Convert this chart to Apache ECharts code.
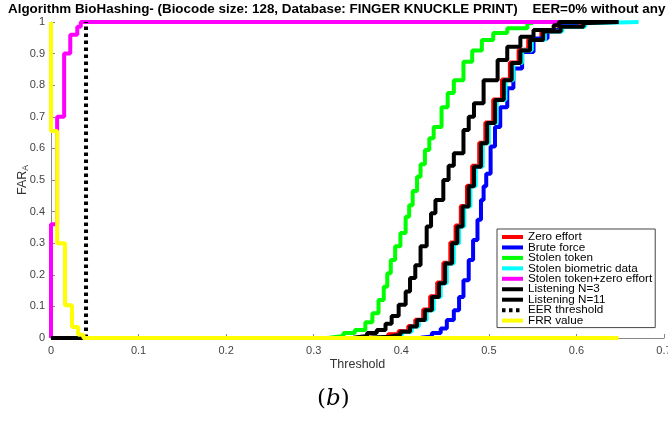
<!DOCTYPE html>
<html>
<head>
<meta charset="utf-8">
<script src="https://cdn.jsdelivr.net/npm/echarts@6/dist/echarts.min.js"></script>
<style>
  html, body { margin: 0; padding: 0; background: #fff; }
  #chart { width: 668px; height: 433px; }
</style>
</head>
<body>
<div id="chart"></div>
<script>
// points: [threshold, value]
const zeroEffort = [[0, 0], [0.30, 0.001], [0.36, 0.004], [0.385, 0.012], [0.397, 0.022], [0.408, 0.038], [0.416, 0.058],
  [0.425, 0.09], [0.433, 0.132], [0.441, 0.176], [0.448, 0.238], [0.456, 0.302], [0.462, 0.356], [0.468, 0.418],
  [0.475, 0.482], [0.481, 0.545], [0.489, 0.618], [0.496, 0.682], [0.505, 0.755], [0.515, 0.818], [0.524, 0.872],
  [0.534, 0.912], [0.545, 0.945], [0.56, 0.972], [0.58, 0.987], [0.606, 0.998], [0.62, 1]];
const bruteForce = [[0, 0], [0.40, 0.001], [0.422, 0.005], [0.435, 0.016], [0.445, 0.03], [0.452, 0.057], [0.46, 0.088],
  [0.466, 0.13], [0.471, 0.183], [0.477, 0.247], [0.482, 0.31], [0.487, 0.374], [0.491, 0.437], [0.494, 0.48],
  [0.497, 0.52], [0.502, 0.606], [0.507, 0.668], [0.513, 0.73], [0.521, 0.79], [0.528, 0.853], [0.538, 0.905],
  [0.551, 0.948], [0.567, 0.975], [0.582, 0.99], [0.6, 1], [0.62, 1]];
const stolenToken = [[0, 0], [0.29, 0.001], [0.318, 0.006], [0.334, 0.016], [0.347, 0.025], [0.359, 0.05], [0.367, 0.078],
  [0.374, 0.12], [0.38, 0.162], [0.384, 0.205], [0.388, 0.247], [0.393, 0.29], [0.399, 0.332], [0.405, 0.384],
  [0.409, 0.42], [0.413, 0.465], [0.418, 0.51], [0.422, 0.55], [0.427, 0.595], [0.432, 0.632], [0.437, 0.668],
  [0.446, 0.73], [0.453, 0.775], [0.46, 0.816], [0.471, 0.874], [0.481, 0.91], [0.492, 0.943], [0.505, 0.965],
  [0.521, 0.98], [0.544, 0.997], [0.55, 1]];
const stolenBiometric = [[0, 0], [0.30, 0.001], [0.365, 0.004], [0.389, 0.01], [0.401, 0.02], [0.412, 0.036], [0.42, 0.057],
  [0.429, 0.088], [0.437, 0.13], [0.445, 0.173], [0.452, 0.236], [0.46, 0.3], [0.466, 0.353], [0.472, 0.416],
  [0.479, 0.48], [0.485, 0.542], [0.493, 0.616], [0.5, 0.68], [0.509, 0.753], [0.519, 0.816], [0.528, 0.87],
  [0.538, 0.91], [0.549, 0.943], [0.564, 0.97], [0.584, 0.985], [0.61, 0.997], [0.625, 1], [0.671, 1]];
const stolenTokenZero = [[0, 0], [0, 0.36], [0.007, 0.70], [0.015, 0.90], [0.022, 0.96], [0.03, 0.985], [0.034, 1], [0.6, 1]];
const listening3 = [[0, 0], [0.30, 0.001], [0.345, 0.006], [0.361, 0.016], [0.372, 0.025], [0.382, 0.045], [0.389, 0.07],
  [0.397, 0.105], [0.405, 0.147], [0.41, 0.19], [0.416, 0.23], [0.422, 0.29], [0.429, 0.353], [0.434, 0.395],
  [0.439, 0.437], [0.448, 0.5], [0.454, 0.545], [0.46, 0.585], [0.471, 0.658], [0.477, 0.7], [0.483, 0.743],
  [0.494, 0.816], [0.51, 0.88], [0.521, 0.922], [0.536, 0.953], [0.551, 0.975], [0.574, 0.99], [0.58, 1], [0.648, 1]];
const listening11 = [[0, 0], [0.30, 0.001], [0.365, 0.004], [0.387, 0.01], [0.399, 0.02], [0.41, 0.036], [0.418, 0.057],
  [0.427, 0.088], [0.435, 0.13], [0.443, 0.173], [0.45, 0.236], [0.458, 0.3], [0.464, 0.353], [0.47, 0.416],
  [0.477, 0.48], [0.483, 0.542], [0.491, 0.616], [0.498, 0.68], [0.507, 0.753], [0.517, 0.816], [0.526, 0.87],
  [0.536, 0.91], [0.547, 0.943], [0.562, 0.97], [0.582, 0.985], [0.608, 0.997], [0.615, 1], [0.648, 1]];
const eerThreshold = [[0.04, 0], [0.04, 1]];
const frrValue = [[0, 1], [0, 0.655], [0.007, 0.30], [0.016, 0.104], [0.024, 0.035], [0.031, 0.01], [0.037, 0], [0.648, 0]];

const xTicks = ['0', '0.1', '0.2', '0.3', '0.4', '0.5', '0.6', '0.7'];
const yTicks = ['0', '0.1', '0.2', '0.3', '0.4', '0.5', '0.6', '0.7', '0.8', '0.9', '1'];

const names = ['Zero effort', 'Brute force', 'Stolen token', 'Stolen biometric data', 'Stolen token+zero effort',
  'Listening N=3', 'Listening N=11', 'EER threshold', 'FRR value'];
const datasets = [zeroEffort, bruteForce, stolenToken, stolenBiometric, stolenTokenZero,
  listening3, listening11, eerThreshold, frrValue];
const colors = ['#ff0000', '#0000ff', '#00ff00', '#00ffff', '#ff00ff', '#000000', '#000000', '#000000', '#ffff00'];

const font = 'Liberation Sans, Arial, sans-serif';

const chart = echarts.init(document.getElementById('chart'), null, { renderer: 'canvas' });

const series = names.map((name, i) => ({
  name: name,
  type: 'line',
  data: datasets[i],
  step: i === 7 ? false : 'end',
  symbol: 'none',
  animation: false,
  lineStyle: {
    color: colors[i],
    width: 4,
    type: i === 7 ? [3.5, 3.5] : 'solid',
  },
  itemStyle: { color: colors[i] },
}));

chart.setOption({
  backgroundColor: '#fff',
  animation: false,
  title: {
    text: 'Algorithm BioHashing- (Biocode size: 128, Database: FINGER KNUCKLE PRINT)    EER=0% without any',
    left: 8,
    top: 3,
    padding: 0,
    textStyle: { fontFamily: font, fontSize: 13.4, fontWeight: 'bold', color: '#000' },
  },
  grid: { left: 51, right: 4, top: 22, bottom: 95, outerBoundsMode: 'none' },
  legend: {
    orient: 'vertical',
    left: 497,
    top: 229,
    padding: [2, 3, 1, 3],
    itemGap: -1.55,
    itemWidth: 21,
    itemHeight: 8,
    borderColor: '#444',
    borderWidth: 1,
    borderRadius: 0,
    backgroundColor: '#fff',
    selectedMode: false,
    data: names,
    itemStyle: { opacity: 0 },
    lineStyle: { width: 4 },
    textStyle: { fontFamily: font, fontSize: 11.7, color: '#000', lineHeight: 10 },
  },
  xAxis: {
    type: 'value',
    min: 0,
    max: 0.7,
    interval: 0.1,
    name: 'Threshold',
    nameLocation: 'middle',
    nameGap: 20,
    nameMoveOverlap: false,
    nameTextStyle: { fontFamily: font, fontSize: 12.5, color: '#333' },
    axisLine: { lineStyle: { color: '#888', width: 1 } },
    axisTick: { inside: true, length: 4, lineStyle: { color: '#888' } },
    axisLabel: {
      fontFamily: font, fontSize: 11, color: '#444', margin: 7,
      formatter: (v) => xTicks[Math.round(v * 10)],
    },
    splitLine: { show: false },
  },
  yAxis: {
    type: 'value',
    min: 0,
    max: 1,
    interval: 0.1,
    name: '{a|FAR}{s|A}',
    nameLocation: 'middle',
    nameRotate: 90,
    nameGap: 21,
    nameMoveOverlap: false,
    nameTextStyle: {
      rich: {
        a: { fontFamily: font, fontSize: 12.5, color: '#333', lineHeight: 14 },
        s: { fontFamily: font, fontSize: 8.5, color: '#333', lineHeight: 14, verticalAlign: 'bottom', padding: [6, 0, 0, 0] },
      },
    },
    axisLine: { show: true, lineStyle: { color: '#888', width: 1 } },
    axisTick: { show: true, inside: true, length: 4, lineStyle: { color: '#888' } },
    axisLabel: {
      fontFamily: font, fontSize: 11, color: '#444', margin: 6,
      formatter: (v) => yTicks[Math.round(v * 10)],
    },
    splitLine: { show: false },
  },
  graphic: [{
    type: 'text',
    left: 317,
    top: 388,
    style: {
      text: '{p|(}{b|b}{p|)}',
      rich: {
        p: { fontFamily: 'DejaVu Serif, serif', fontSize: 23, fill: '#000' },
        b: { fontFamily: 'DejaVu Serif, serif', fontSize: 23, fontStyle: 'italic', fill: '#000' },
      },
    },
  }],
  series: series,
});
</script>
</body>
</html>
